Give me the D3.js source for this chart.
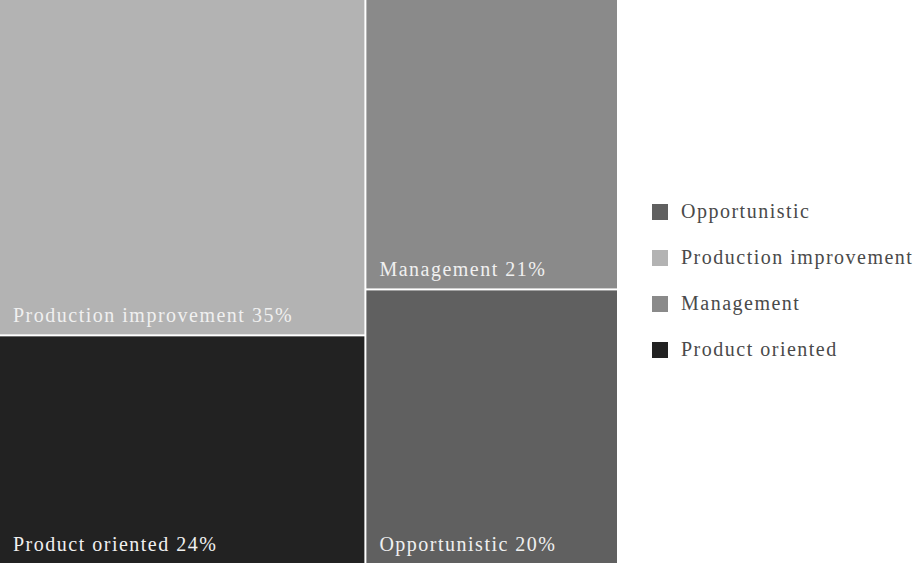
<!DOCTYPE html>
<html>
<head>
<meta charset="utf-8">
<script src="https://cdn.jsdelivr.net/npm/d3@7"></script>
<style>
  body { margin: 0; background: #fff; }
  text { font-family: "Liberation Serif", "DejaVu Serif", serif; letter-spacing: 1.5px; }
</style>
</head>
<body>
<svg id="chart" width="917" height="563"></svg>
<script>
// categories and their shares (percent)
var categories = ["Production improvement", "Product oriented", "Management", "Opportunistic"];
var values = [35, 24, 21, 20];
var colors = ["#b3b3b3", "#222222", "#8a8a8a", "#606060"];

// legend order as shown in the picture
var legendOrder = ["Opportunistic", "Production improvement", "Management", "Product oriented"];

var svg = d3.select("#chart");
var treeW = 617, treeH = 563;

var color = d3.scaleOrdinal().domain(categories).range(colors);

var root = d3.hierarchy({
    children: categories.map(function(c, i) { return { name: c, value: values[i] }; })
  })
  .sum(function(d) { return d.value || 0; })
  .sort(function(a, b) { return b.value - a.value; });

d3.treemap()
  .tile(d3.treemapSquarify.ratio(1))
  .size([treeW + 2, treeH + 2])
  .paddingInner(2)(root);

var cell = svg.selectAll("g.cell")
  .data(root.leaves())
  .enter()
  .append("g")
  .attr("class", "cell");

cell.append("rect")
  .attr("x", function(d) { return d.x0; })
  .attr("y", function(d) { return d.y0; })
  .attr("width", function(d) { return Math.min(d.x1, treeW) - d.x0; })
  .attr("height", function(d) { return Math.min(d.y1, treeH) - d.y0; })
  .style("fill", function(d) { return color(d.data.name); });

// labels in the bottom-left corner of each cell
cell.append("text")
  .attr("x", function(d) { return d.x0 + 13; })
  .attr("y", function(d) { return Math.min(d.y1, treeH) - 12; })
  .style("font-size", "20px")
  .style("fill", "#f0f0f0")
  .text(function(d) { return d.data.name + " " + d.data.value + "%"; });

// legend
var legend = svg.append("g")
  .attr("transform", "translate(652,212)");

var item = legend.selectAll("g")
  .data(legendOrder)
  .enter()
  .append("g")
  .attr("transform", function(d, i) { return "translate(0," + (i * 46) + ")"; });

item.append("rect")
  .attr("x", 0)
  .attr("y", -8)
  .attr("width", 16)
  .attr("height", 16)
  .style("fill", function(d) { return color(d); });

item.append("text")
  .attr("x", 29)
  .attr("y", 6)
  .style("font-size", "20px")
  .style("fill", "#4a4a4a")
  .text(function(d) { return d; });
</script>
</body>
</html>
